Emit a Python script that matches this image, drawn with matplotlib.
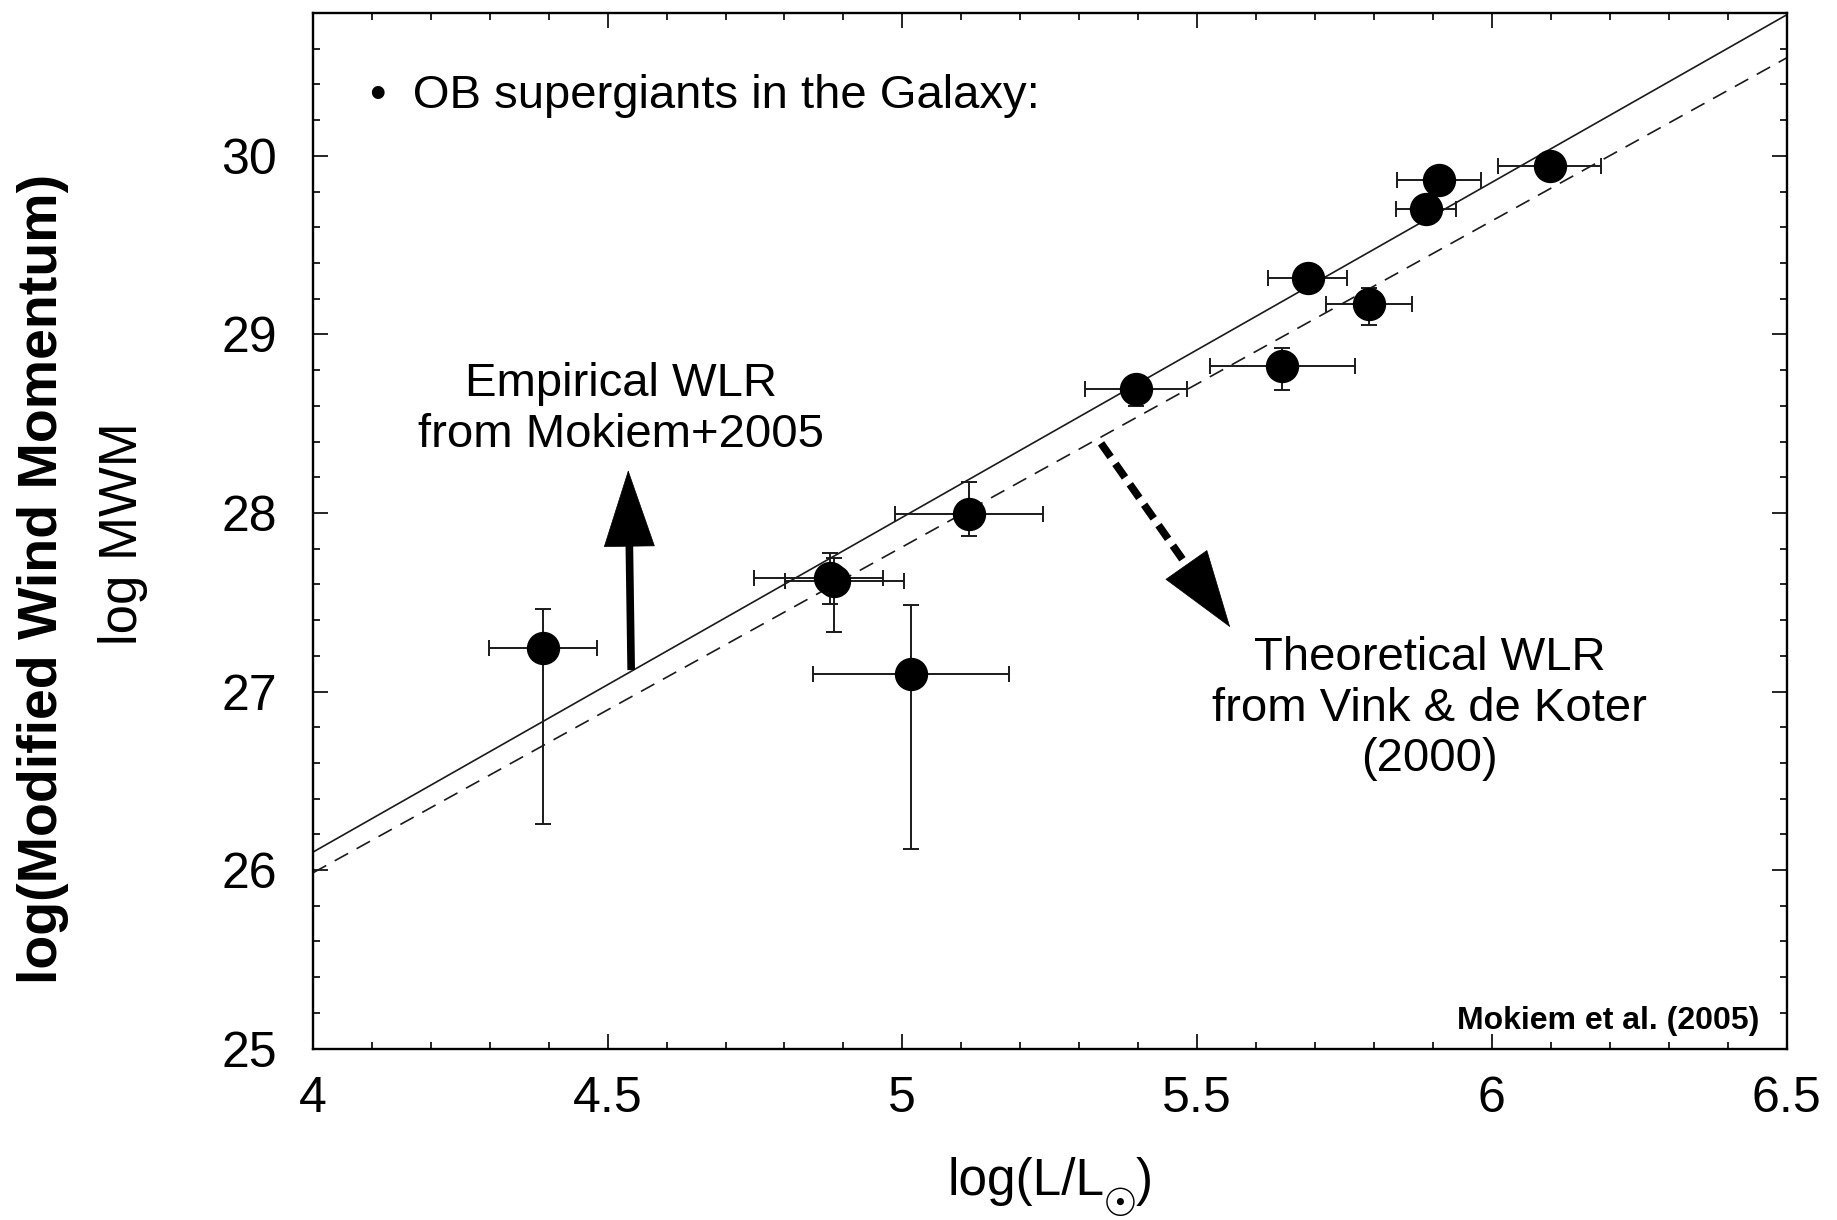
import matplotlib
matplotlib.use("Agg")
import matplotlib.pyplot as plt
import numpy as np
from matplotlib.ticker import MultipleLocator, FuncFormatter

plt.rcParams["font.family"] = ["Liberation Sans", "DejaVu Sans"]
plt.rcParams["lines.scale_dashes"] = False

# Galactic OB supergiants (Mokiem et al. 2005)
log_l = [4.391, 4.878, 4.884, 5.014, 5.113, 5.397, 5.644, 5.688, 5.792, 5.888, 5.910, 6.098]
log_mwm = [27.246, 27.635, 27.620, 27.097, 27.995, 28.697, 28.822, 29.315, 29.171, 29.700, 29.866, 29.944]
l_err_lo = [0.092, 0.129, 0.083, 0.166, 0.126, 0.088, 0.123, 0.067, 0.073, 0.050, 0.071, 0.087]
l_err_hi = [0.091, 0.089, 0.119, 0.167, 0.125, 0.086, 0.123, 0.066, 0.073, 0.051, 0.071, 0.087]
mwm_err_lo = [0.990, 0.147, 0.285, 0.980, 0.125, 0.100, 0.135, 0.0, 0.120, 0.0, 0.0, 0.0]
mwm_err_hi = [0.216, 0.142, 0.130, 0.390, 0.180, 0.050, 0.100, 0.0, 0.090, 0.0, 0.0, 0.0]

# wind-momentum luminosity relations: slope, intercept
wlr_empirical = (1.876, 18.596)   # Mokiem+2005
wlr_theory = (1.826, 18.680)      # Vink & de Koter 2000

# annotation arrows: (start, tip)
arrow_empirical = ((4.540, 27.12), (4.535, 28.24))
arrow_theory = ((5.337, 28.39), (5.556, 27.36))


def draw_arrow(ax, start, tip, dashed, head_frac):
    start = np.asarray(start)
    tip = np.asarray(tip)
    shaft_end = start + (1.0 - head_frac + 0.06) * (tip - start)
    near_tip = start + 0.97 * (tip - start)
    ls = (0, (12, 6)) if dashed else "-"
    ax.annotate("", xy=shaft_end, xytext=start,
                arrowprops=dict(arrowstyle="-", lw=5.5, color="black",
                                linestyle=ls, shrinkA=0, shrinkB=0,
                                capstyle="butt"))
    ax.annotate("", xy=tip, xytext=near_tip,
                arrowprops=dict(arrowstyle="-|>,head_length=3.0,head_width=1.0",
                                mutation_scale=18, lw=0.5, color="black",
                                shrinkA=0, shrinkB=0))


fig = plt.figure(figsize=(18.37, 12.20), dpi=100)
ax = fig.add_axes([0.1703, 0.1405, 0.8023, 0.8488])

xs = np.array([4.0, 6.5])
ax.plot(xs, wlr_empirical[0] * xs + wlr_empirical[1], color="#1a1a1a", lw=1.2)
ax.plot(xs, wlr_theory[0] * xs + wlr_theory[1], color="#1a1a1a", lw=1.2,
        linestyle=(0, (11, 7)))

ax.errorbar(log_l, log_mwm, xerr=[l_err_lo, l_err_hi], yerr=[mwm_err_lo, mwm_err_hi],
            fmt="o", ms=23, mfc="black", mec="black", ecolor="#1a1a1a",
            elinewidth=1.4, capsize=5.5, capthick=1.4, zorder=3)

draw_arrow(ax, *arrow_empirical, dashed=False, head_frac=0.38)
draw_arrow(ax, *arrow_theory, dashed=True, head_frac=0.33)

ax.text(4.097, 30.27, "\u2022  OB supergiants in the Galaxy:", fontsize=34,
        ha="left", va="baseline")
ax.text(4.523, 28.578, "Empirical WLR\nfrom Mokiem+2005", fontsize=34,
        ha="center", va="center")
ax.text(5.894, 26.904, "Theoretical WLR\nfrom Vink & de Koter\n(2000)", fontsize=34,
        ha="center", va="center")
ax.text(6.454, 25.11, "Mokiem et al. (2005)", fontsize=23, fontweight="bold",
        ha="right", va="baseline")

ax.set_xlim(4.0, 6.5)
ax.set_ylim(25.0, 30.8)
ax.xaxis.set_major_locator(MultipleLocator(0.5))
ax.xaxis.set_minor_locator(MultipleLocator(0.1))
ax.yaxis.set_major_locator(MultipleLocator(1.0))
ax.yaxis.set_minor_locator(MultipleLocator(0.2))
fmt = FuncFormatter(lambda v, pos: f"{v:g}")
ax.xaxis.set_major_formatter(fmt)
ax.yaxis.set_major_formatter(fmt)
ax.tick_params(which="both", direction="in", top=True, right=True, width=1.2)
ax.tick_params(which="major", length=11, labelsize=36)
ax.tick_params(which="minor", length=5)
ax.tick_params(axis="x", which="major", pad=20)
ax.tick_params(axis="y", which="major", pad=26)
for sp in ax.spines.values():
    sp.set_linewidth(1.7)

# x label: log(L/L_sun) with a large solar symbol as subscript
xl = fig.text(0.5160, 0.0205, "log(L/L", fontsize=37, ha="left", va="baseline")
sun = ax.annotate("\u2609", xy=(1, 0), xycoords=xl, xytext=(-1.5, 1), textcoords="offset points",
                  fontsize=28, family="DejaVu Sans", ha="left", va="center")
ax.annotate(")", xy=(1, 0), xycoords=(sun, xl), xytext=(-1.5, 0), textcoords="offset points",
            fontsize=37, ha="left", va="bottom")

fig.text(0.0235, 0.5256, "log(Modified Wind Momentum)", fontsize=40, fontweight="bold",
         rotation=90, ha="center", va="center")
fig.text(0.067, 0.5626, "log MWM", fontsize=38, rotation=90, ha="center", va="center")

fig.savefig("out.png", dpi=100)
